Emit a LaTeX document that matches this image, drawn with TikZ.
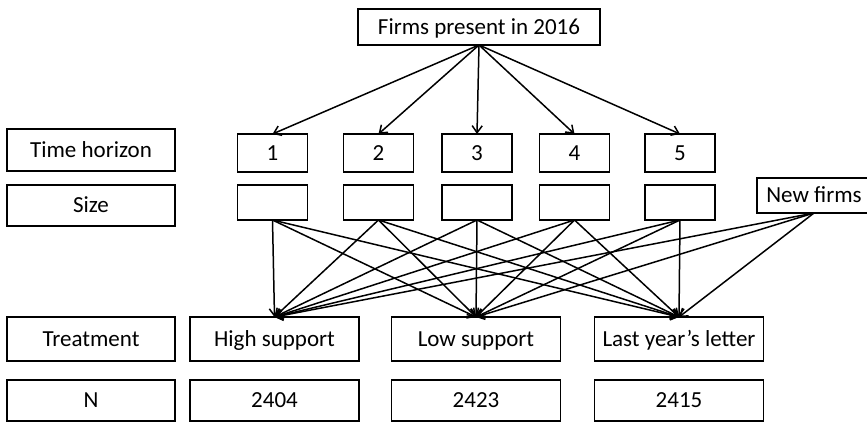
\documentclass[tikz,border=0pt]{standalone}
\usepackage{fontspec}
\setmainfont{Carlito}
\usetikzlibrary{arrows.meta}
\begin{document}
\begin{tikzpicture}[x=0.5pt,y=-0.5pt,
  every node/.style={font=\fontsize{11.5}{13}\selectfont},
  box/.style={draw,line width=0.9pt,inner sep=0pt,outer sep=0pt,text height=1.8ex,text depth=0.3ex},
  arr/.style={-{Straight Barb[length=3.5pt,width=5pt]},line width=0.75pt}]
\useasboundingbox (0,0) rectangle (867,423);
\node[box,minimum width=121pt,minimum height=18pt] (top) at (479,27) {Firms present in 2016};
\node[box,minimum width=84pt,minimum height=21pt] (th) at (91,150) {Time horizon};
\node[box,minimum width=84pt,minimum height=20.5pt] (sz) at (91,205.5) {Size};
\node[box,minimum width=84pt,minimum height=22pt] (tr) at (91,339) {Treatment};
\node[box,minimum width=84pt,minimum height=20.5pt] (nn) at (91,400.5) {N};
\node[box,minimum width=35pt,minimum height=19pt] (t1) at (272.5,153) {1};
\node[box,minimum width=35pt,minimum height=19pt] (t2) at (378.5,153) {2};
\node[box,minimum width=35pt,minimum height=19pt] (t3) at (477,153) {3};
\node[box,minimum width=35pt,minimum height=19pt] (t4) at (574.5,153) {4};
\node[box,minimum width=35pt,minimum height=19pt] (t5) at (680,153) {5};
\node[box,minimum width=35pt,minimum height=17.5pt] (s1) at (272.5,202.5) {};
\node[box,minimum width=35pt,minimum height=17.5pt] (s2) at (378.5,202.5) {};
\node[box,minimum width=35pt,minimum height=17.5pt] (s3) at (477,202.5) {};
\node[box,minimum width=35pt,minimum height=17.5pt] (s4) at (574.5,202.5) {};
\node[box,minimum width=35pt,minimum height=17.5pt] (s5) at (680,202.5) {};
\node[box,minimum width=57pt,minimum height=17.5pt] (new) at (814,195.5) {New firms};
\node[box,minimum width=84.5pt,minimum height=22pt] (hs) at (274.5,339) {High support};
\node[box,minimum width=84.5pt,minimum height=22pt] (ls) at (476,339) {Low support};
\node[box,minimum width=84.5pt,minimum height=22pt] (ly) at (679,339) {Last year’s letter};
\node[box,minimum width=84.5pt,minimum height=20.5pt] (n1) at (274.5,400.5) {2404};
\node[box,minimum width=84.5pt,minimum height=20.5pt] (n2) at (476,400.5) {2423};
\node[box,minimum width=84.5pt,minimum height=20.5pt] (n3) at (679,400.5) {2415};
\draw[arr] (top.south)--(t1.north);
\draw[arr] (top.south)--(t2.north);
\draw[arr] (top.south)--(t3.north);
\draw[arr] (top.south)--(t4.north);
\draw[arr] (top.south)--(t5.north);
\draw[arr] (s1.south)--(hs.north); \draw[arr] (s1.south)--(ls.north); \draw[arr] (s1.south)--(ly.north);
\draw[arr] (s2.south)--(hs.north); \draw[arr] (s2.south)--(ls.north); \draw[arr] (s2.south)--(ly.north);
\draw[arr] (s3.south)--(hs.north); \draw[arr] (s3.south)--(ls.north); \draw[arr] (s3.south)--(ly.north);
\draw[arr] (s4.south)--(hs.north); \draw[arr] (s4.south)--(ls.north); \draw[arr] (s4.south)--(ly.north);
\draw[arr] (s5.south)--(hs.north); \draw[arr] (s5.south)--(ls.north); \draw[arr] (s5.south)--(ly.north);
\draw[arr] (new.south)--(hs.north); \draw[arr] (new.south)--(ls.north); \draw[arr] (new.south)--(ly.north);
\end{tikzpicture}
\end{document}
